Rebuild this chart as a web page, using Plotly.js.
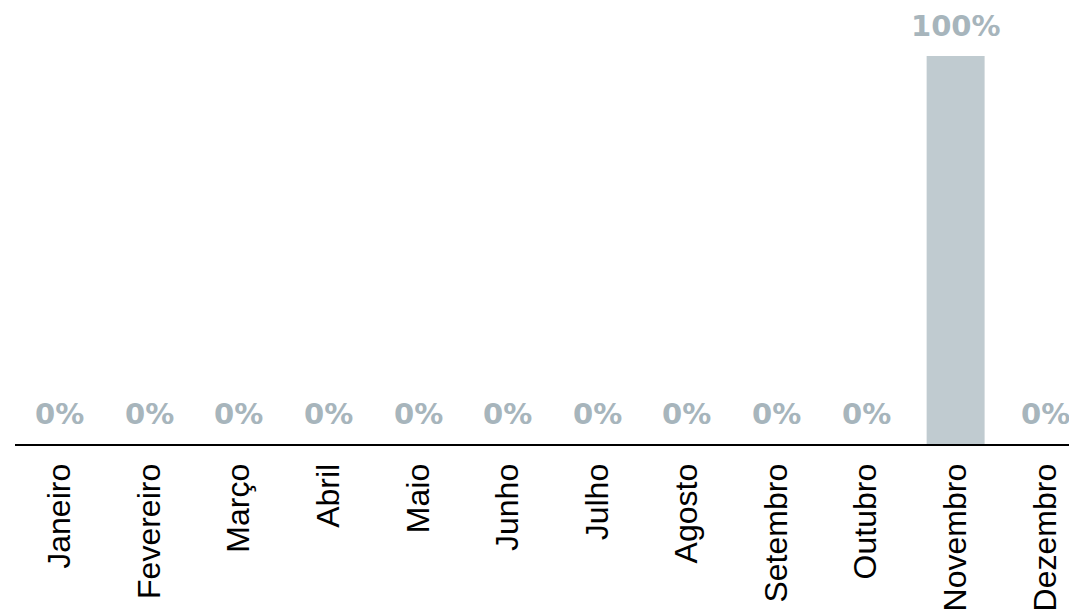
<!DOCTYPE html>
<html>
<head>
<meta charset="utf-8">
<script src="https://cdn.plot.ly/plotly-3.0.1.min.js"></script>
<style>
html, body { margin:0; padding:0; overflow:hidden; background:#fff; width:1069px; height:611px; }
#chart { width:1095px; height:611px; }
</style>
</head>
<body>
<div id="chart"></div>
<script>
var months = ["Janeiro","Fevereiro","Março","Abril","Maio","Junho","Julho","Agosto","Setembro","Outubro","Novembro","Dezembro"];
var values = [0,0,0,0,0,0,0,0,0,0,100,0];
var labels = values.map(function(v){ return v + "%"; });

var trace = {
  type: "bar",
  x: months,
  y: values,
  marker: { color: "#c0cbd0" },
  hoverinfo: "none"
};

var annotations = months.map(function(m, i){
  return {
    x: m, y: values[i], xref: "x", yref: "y",
    text: labels[i], showarrow: false,
    yanchor: "bottom", yshift: 11,
    font: { family: "DejaVu Sans", size: 29, color: "#a7b5bc", weight: 700 }
  };
});

var layout = {
  width: 1095, height: 611,
  margin: { l: 15, r: 5, t: 56, b: 167 },
  paper_bgcolor: "#fff", plot_bgcolor: "#fff",
  showlegend: false,
  bargap: 0.353,
  xaxis: {
    type: "category",
    showline: true, linecolor: "#000", linewidth: 2,
    showgrid: false, zeroline: false,
    ticks: "outside", ticklen: 5, tickcolor: "rgba(0,0,0,0)",
    tickangle: -90,
    tickfont: { family: "Liberation Sans, Arial, sans-serif", size: 32, color: "#000" }
  },
  yaxis: {
    range: [0, 100], visible: false, showgrid: false, zeroline: false
  },
  annotations: annotations
};

Plotly.newPlot("chart", [trace], layout, { displayModeBar: false, staticPlot: true });
</script>
</body>
</html>
